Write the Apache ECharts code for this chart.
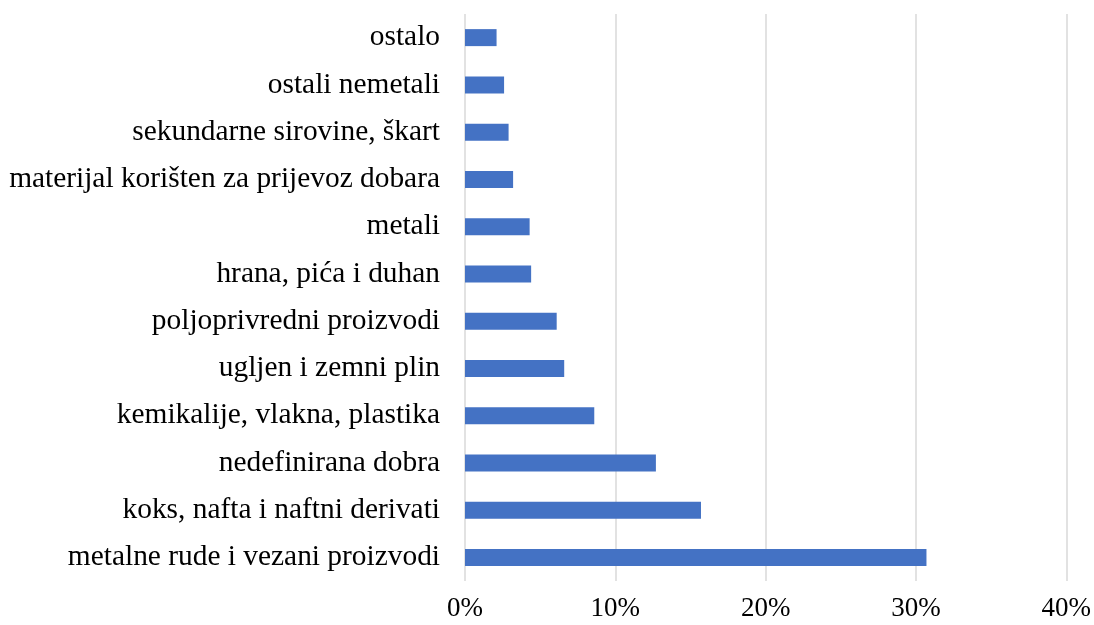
<!DOCTYPE html>
<html>
<head>
<meta charset="utf-8">
<script src="https://cdn.jsdelivr.net/npm/echarts@6/dist/echarts.min.js"></script>
<style>
  html, body { margin: 0; padding: 0; background: #fff; }
  #chart { width: 1094px; height: 625px; }
</style>
</head>
<body>
<div id="chart"></div>
<script>
// categories from bottom to top
const categories = [
  'metalne rude i vezani proizvodi',
  'koks, nafta i naftni derivati',
  'nedefinirana dobra',
  'kemikalije, vlakna, plastika',
  'ugljen i zemni plin',
  'poljoprivredni proizvodi',
  'hrana, pića i duhan',
  'metali',
  'materijal korišten za prijevoz dobara',
  'sekundarne sirovine, škart',
  'ostali nemetali',
  'ostalo'
]
// share in percent
const shares = [30.7, 15.7, 12.7, 8.6, 6.6, 6.1, 4.4, 4.3, 3.2, 2.9, 2.6, 2.1]

const chart = echarts.init(document.getElementById('chart'))
chart.setOption({
  animation: false,
  grid: { left: 465, right: 27, top: 14, bottom: 44 },
  xAxis: {
    type: 'value',
    min: 0,
    max: 40,
    interval: 10,
    axisLine: { show: false },
    axisTick: { show: false },
    splitLine: { lineStyle: { color: '#d9d9d9', width: 1.5 } },
    axisLabel: {
      formatter: '{value}%',
      fontFamily: 'Liberation Serif',
      fontSize: 27,
      color: '#000',
      margin: 14
    }
  },
  yAxis: {
    type: 'category',
    data: categories,
    axisLine: { show: false },
    axisTick: { show: false },
    axisLabel: {
      fontFamily: 'Liberation Serif',
      fontSize: 29.4,
      color: '#000',
      margin: 25
    }
  },
  series: [{
    type: 'bar',
    data: shares,
    barWidth: 17,
    itemStyle: { color: '#4472C4' }
  }]
})
</script>
</body>
</html>
